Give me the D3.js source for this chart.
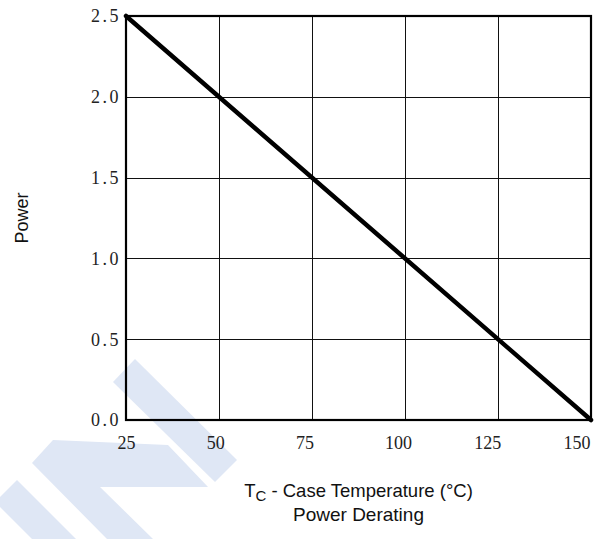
<!DOCTYPE html>
<html>
<head>
<meta charset="utf-8">
<script src="https://cdn.jsdelivr.net/npm/d3@7/dist/d3.min.js"></script>
<style>
  html, body { margin: 0; padding: 0; background: #fff; }
  svg { display: block; }
</style>
</head>
<body>
<svg id="chart" width="603" height="539"></svg>
<script>
// ---- data ----
const temperature = [25, 150];          // T_C (°C)
const power = [2.5, 0.0];               // derated power
const xTicks = [25, 50, 75, 100, 125, 150];
const yTicks = [0.0, 0.5, 1.0, 1.5, 2.0, 2.5];
const xTitle = "Case Temperature (°C)";
const yTitle = "Power";
const chartTitle = "Power Derating";

// ---- layout ----
const W = 603, H = 539;
const m = { left: 126, top: 16, right: 12, bottom: 119 };
const svg = d3.select("#chart");

// faint background watermark (decorative)
const wm = svg.append("g").attr("fill", "#dfe7f5");
const wmShapes = [
  [[113,382],[135,359],[237,460],[215,482]],
  [[53,440],[168,445],[208,487],[100,487],[153,539],[107,539],[32,463]],
  [[0,497],[17,480],[76,539],[32,539],[0,507]]
];
wmShapes.forEach(p => wm.append("path").attr("d", d3.line()(p) + "Z"));

const x = d3.scaleLinear().domain([25, 150]).range([m.left, W - m.right]);
const y = d3.scaleLinear().domain([0, 2.5]).range([H - m.bottom, m.top]);

const g = svg.append("g");

// grid
g.selectAll("line.vg").data(xTicks.slice(1, -1)).join("line")
  .attr("x1", d => Math.round(x(d)) + 0.5).attr("x2", d => Math.round(x(d)) + 0.5)
  .attr("y1", y(0)).attr("y2", y(2.5))
  .attr("stroke", "#111").attr("stroke-width", 1);
g.selectAll("line.hg").data(yTicks.slice(1, -1)).join("line")
  .attr("y1", d => Math.round(y(d)) + 0.5).attr("y2", d => Math.round(y(d)) + 0.5)
  .attr("x1", x(25)).attr("x2", x(150))
  .attr("stroke", "#111").attr("stroke-width", 1);

// frame
g.append("rect")
  .attr("x", x(25)).attr("y", y(2.5))
  .attr("width", x(150) - x(25)).attr("height", y(0) - y(2.5))
  .attr("fill", "none").attr("stroke", "#000").attr("stroke-width", 2.2);

// axes (labels only)
const fmtY = d3.format(".1f");
const xAxis = d3.axisBottom(x).tickValues(xTicks).tickSize(0).tickPadding(16);
const yAxis = d3.axisLeft(y).tickValues(yTicks).tickSize(0).tickFormat(fmtY).tickPadding(5);

const gx = g.append("g").attr("transform", `translate(0,${y(0)})`).call(xAxis);
gx.select(".domain").remove();
gx.selectAll("text")
  .attr("font-family", "'Liberation Serif', 'Times New Roman', serif")
  .attr("font-size", 18).attr("fill", "#222");

// keep first label centred and last label inside the frame, spreading the rest evenly
const xt0 = xTicks[0], xt1 = xTicks[xTicks.length - 1];
const labels = gx.selectAll(".tick text").nodes();
const wFirst = labels[0].getComputedTextLength();
const wLast = labels[labels.length - 1].getComputedTextLength();
const leftEdge = d3.scaleLinear().domain([xt0, xt1])
  .range([x(xt0) - wFirst / 2, x(xt1) - wLast - 1]);
gx.selectAll(".tick").each(function(d) {
  d3.select(this).select("text")
    .attr("text-anchor", "start")
    .attr("x", leftEdge(d) - x(d));
});

const gy = g.append("g").attr("transform", `translate(${x(25)},0)`).call(yAxis);
gy.select(".domain").remove();
gy.selectAll("text")
  .attr("font-family", "'Liberation Serif', 'Times New Roman', serif")
  .attr("font-size", 18).attr("fill", "#222")
  .attr("letter-spacing", 2.5).attr("dy", "0.33em");

// data line
g.append("path")
  .datum(temperature.map((t, i) => [t, power[i]]))
  .attr("fill", "none").attr("stroke", "#000")
  .attr("stroke-width", 4.5).attr("stroke-linecap", "round")
  .attr("d", d3.line().x(d => x(d[0])).y(d => y(d[1])));

// titles
const cx = (x(25) + x(150)) / 2;
const xt = svg.append("text")
  .attr("x", cx).attr("y", 497).attr("text-anchor", "middle")
  .attr("font-family", "'Liberation Sans', Arial, sans-serif")
  .attr("font-size", 18.5).attr("fill", "#111");
xt.append("tspan").text("T");
xt.append("tspan").attr("font-size", 15).attr("dy", 4).text("C");
xt.append("tspan").attr("dy", -4).text(" - " + xTitle);

svg.append("text")
  .attr("x", cx).attr("y", 521).attr("text-anchor", "middle")
  .attr("font-family", "'Liberation Sans', Arial, sans-serif")
  .attr("font-size", 19).attr("fill", "#111")
  .text(chartTitle);

svg.append("text")
  .attr("transform", `translate(28,${(y(0) + y(2.5)) / 2}) rotate(-90)`)
  .attr("text-anchor", "middle")
  .attr("font-family", "'Liberation Sans', Arial, sans-serif")
  .attr("font-size", 18).attr("fill", "#111")
  .text(yTitle);
</script>
</body>
</html>
